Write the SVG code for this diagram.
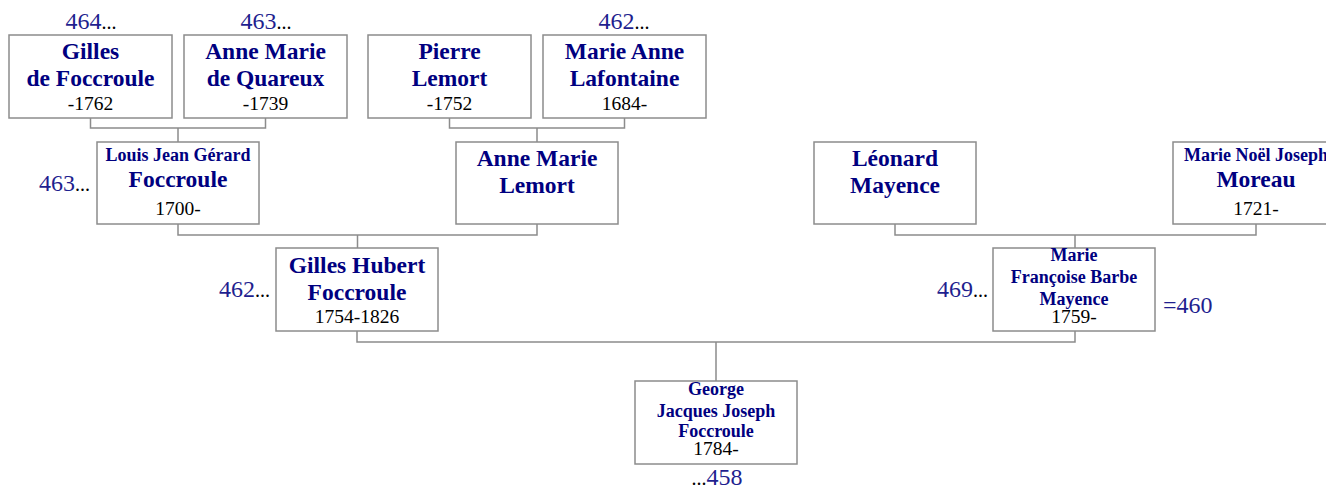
<svg xmlns="http://www.w3.org/2000/svg" width="1326" height="489" viewBox="0 0 1326 489">
<style>
.box{fill:#fff;stroke:#8c8c8c;stroke-width:1.5}
.con{fill:none;stroke:#8c8c8c;stroke-width:1.5}
.nm{font-weight:bold;font-size:23.5px;fill:#000080}
.sn{font-weight:bold;font-size:18px;fill:#000080}
.dt{font-size:19.5px;fill:#000}
.lb{font-size:24px;fill:#1f1f8f}
.dots{font-size:20px;fill:#000}
</style>
<rect width="1326" height="489" fill="#fff"/>
<g id="connectors">
<path class="con" d="M90.5 118V128H265.5V118M178 128V142"/>
<path class="con" d="M449.5 118V128H624.5V118M537 128V142"/>
<path class="con" d="M178 224V235H537V224M357.5 235V248"/>
<path class="con" d="M895 224V235H1256V224M1075 235V248"/>
<path class="con" d="M357 331V342H1075V331M716 342V381"/>
</g>
<g font-family="'Liberation Serif', 'Times New Roman', 'DejaVu Serif', serif" text-anchor="middle">
<g id="n1">
<rect class="box" x="9" y="35" width="163" height="83"/>
<text x="90.5" y="59" class="nm">Gilles</text>
<text x="90.5" y="86" class="nm">de Foccroule</text>
<text x="90.5" y="110" class="dt">-1762</text>
<text x="91" y="29" class="lb">464<tspan class="dots">...</tspan></text>
</g>
<g id="n2">
<rect class="box" x="184" y="35" width="163" height="83"/>
<text x="265.5" y="59" class="nm">Anne Marie</text>
<text x="265.5" y="86" class="nm">de Quareux</text>
<text x="265.5" y="110" class="dt">-1739</text>
<text x="266" y="29" class="lb">463<tspan class="dots">...</tspan></text>
</g>
<g id="n3">
<rect class="box" x="368" y="35" width="163" height="83"/>
<text x="449.5" y="59" class="nm">Pierre</text>
<text x="449.5" y="86" class="nm">Lemort</text>
<text x="449.5" y="110" class="dt">-1752</text>
</g>
<g id="n4">
<rect class="box" x="543" y="35" width="163" height="83"/>
<text x="624.5" y="59" class="nm">Marie Anne</text>
<text x="624.5" y="86" class="nm">Lafontaine</text>
<text x="624.5" y="110" class="dt">1684-</text>
<text x="624" y="29" class="lb">462<tspan class="dots">...</tspan></text>
</g>
<g id="n5">
<rect class="box" x="97" y="142" width="162" height="82"/>
<text x="178" y="161" class="sn">Louis Jean Gérard</text>
<text x="178" y="187" class="nm">Foccroule</text>
<text x="178" y="215" class="dt">1700-</text>
<text x="90" y="191" class="lb" text-anchor="end">463<tspan class="dots">...</tspan></text>
</g>
<g id="n6">
<rect class="box" x="456" y="142" width="162" height="82"/>
<text x="537" y="166" class="nm">Anne Marie</text>
<text x="537" y="193" class="nm">Lemort</text>
</g>
<g id="n7">
<rect class="box" x="814" y="142" width="162" height="82"/>
<text x="895" y="166" class="nm">Léonard</text>
<text x="895" y="193" class="nm">Mayence</text>
</g>
<g id="n8">
<rect class="box" x="1173" y="142" width="166" height="82"/>
<text x="1256" y="161" class="sn">Marie Noël Joseph</text>
<text x="1256" y="187" class="nm">Moreau</text>
<text x="1256" y="215" class="dt">1721-</text>
</g>
<g id="n9">
<rect class="box" x="276" y="248" width="162" height="83"/>
<text x="357" y="273" class="nm">Gilles Hubert</text>
<text x="357" y="300" class="nm">Foccroule</text>
<text x="357" y="323" class="dt">1754-1826</text>
<text x="270" y="297" class="lb" text-anchor="end">462<tspan class="dots">...</tspan></text>
</g>
<g id="n10">
<rect class="box" x="993" y="248" width="162" height="83"/>
<text x="1074" y="261" class="sn">Marie</text>
<text x="1074" y="283" class="sn">Françoise Barbe</text>
<text x="1074" y="305" class="sn">Mayence</text>
<text x="1074" y="323" class="dt">1759-</text>
<text x="988" y="297" class="lb" text-anchor="end">469<tspan class="dots">...</tspan></text>
<text x="1163" y="313" class="lb" text-anchor="start">=460</text>
</g>
<g id="n11">
<rect class="box" x="635" y="381" width="162" height="83"/>
<text x="716" y="395" class="sn">George</text>
<text x="716" y="417" class="sn">Jacques Joseph</text>
<text x="716" y="437" class="sn">Foccroule</text>
<text x="716" y="455" class="dt">1784-</text>
<text x="717" y="485" class="lb"><tspan class="dots">...</tspan>458</text>
</g>
</g>
</svg>
